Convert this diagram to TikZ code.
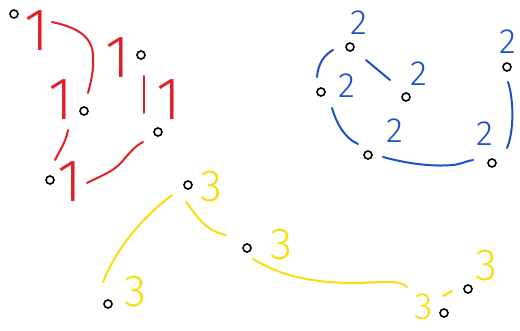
\documentclass[tikz,border=0pt]{standalone}
\usepackage{fontspec}
\newfontfamily\digf{Fira Sans Light}
\definecolor{hred}{RGB}{226,30,38}
\definecolor{hblue}{RGB}{30,80,200}
\definecolor{hyel}{RGB}{246,222,10}
\begin{document}
\begin{tikzpicture}[x=1pt,y=-1pt,
  dot/.style={circle,draw=black,line width=1.6pt,minimum size=8pt,inner sep=0pt},
  one/.style={text=hred,inner sep=0pt,font=\digf\fontsize{60}{60}\selectfont},
  two/.style={text=hblue,inner sep=0pt,font=\digf\fontsize{35}{35}\selectfont},
  three/.style={text=hyel,inner sep=0pt,font=\digf\fontsize{45}{45}\selectfont},
  rs/.style={draw=hred,line width=2pt,line cap=round},
  bs/.style={draw=hblue,line width=2pt,line cap=round},
  ys/.style={draw=hyel,line width=2pt,line cap=round}]
\useasboundingbox (0,0) rectangle (520,331);
% red group
\node[dot] (A1) at (14,14) {};
\node[dot] (A2) at (141,55) {};
\node[dot] (A3) at (84,111) {};
\node[dot] (A4) at (158,132) {};
\node[dot] (A5) at (50,180) {};
\node[one] (a1) at (37,31) {1};
\node[one] (a2) at (118,58) {1};
\node[one] (a3) at (61,100) {1};
\node[one] (a4) at (169,100) {1};
\node[one] (a5) at (70,182) {1};
\coordinate (r1s) at (52,22);
\coordinate (r1e) at (88,93);
\draw[rs] (r1s) .. controls (80,28) and (92,38) .. (93,55) .. controls (94,70) and (91,82) .. (r1e);
\coordinate (r2s) at (144,76);
\coordinate (r2e) at (144,113);
\draw[rs] (r2s) -- (r2e);
\coordinate (r3s) at (68,130);
\coordinate (r3e) at (55,160);
\draw[rs] (r3s) .. controls (66,142) and (60,150) .. (r3e);
\coordinate (r4s) at (87,183);
\coordinate (r4e) at (143,142);
\draw[rs] (r4s) .. controls (100,176) and (115,172) .. (125,158) .. controls (132,150) and (137,145) .. (r4e);
% blue group
\node[dot] (B1) at (350,47) {};
\node[dot] (B2) at (321,92) {};
\node[dot] (B3) at (406,97) {};
\node[dot] (B4) at (507,67) {};
\node[dot] (B5) at (368,155) {};
\node[dot] (B6) at (492,163) {};
\node[two] (b1) at (359,23) {2};
\node[two] (b2) at (347,86) {2};
\node[two] (b3) at (419,74) {2};
\node[two] (b4) at (508,42) {2};
\node[two] (b5) at (395,131) {2};
\node[two] (b6) at (485,134) {2};
\coordinate (u1s) at (333,50);
\coordinate (u1e) at (317,77);
\draw[bs] (u1s) .. controls (324,55) and (318,64) .. (u1e);
\coordinate (u2s) at (366,60);
\coordinate (u2e) at (390,80);
\draw[bs] (u2s) -- (u2e);
\coordinate (u3s) at (332,108);
\coordinate (u3e) at (358,144);
\draw[bs] (u3s) .. controls (336,122) and (344,138) .. (u3e);
\coordinate (u4s) at (383,157);
\coordinate (u4e) at (473,160);
\draw[bs] (u4s) .. controls (405,163) and (430,167) .. (453,165) .. controls (462,164) and (466,161) .. (u4e);
\coordinate (u5s) at (508,82);
\coordinate (u5e) at (507,148);
\draw[bs] (u5s) .. controls (514,100) and (514,132) .. (u5e);
% yellow group
\node[dot] (C1) at (188,185) {};
\node[dot] (C2) at (247,248) {};
\node[dot] (C3) at (108,304) {};
\node[dot] (C4) at (468,289) {};
\node[dot] (C5) at (444,313) {};
\node[three] (c1) at (211,187) {3};
\node[three] (c2) at (281,245) {3};
\node[three] (c3) at (135,292) {3};
\node[three] (c4) at (486,266) {3};
\node[three,font=\digf\fontsize{38}{38}\selectfont] (c5) at (424,307) {3};
\coordinate (y1s) at (172,195);
\coordinate (y1e) at (103,282);
\draw[ys] (y1s) .. controls (150,212) and (120,240) .. (y1e);
\coordinate (y2s) at (186,202);
\coordinate (y2e) at (226,235);
\draw[ys] (y2s) .. controls (196,214) and (203,230) .. (y2e);
\coordinate (y3s) at (253,259);
\coordinate (y3e) at (407,287);
\draw[ys] (y3s) .. controls (275,272) and (300,282) .. (350,283) .. controls (380,283) and (400,279) .. (y3e);
\coordinate (y4s) at (443,296);
\coordinate (y4e) at (452,291);
\draw[ys] (y4s) -- (y4e);
\end{tikzpicture}
\end{document}
